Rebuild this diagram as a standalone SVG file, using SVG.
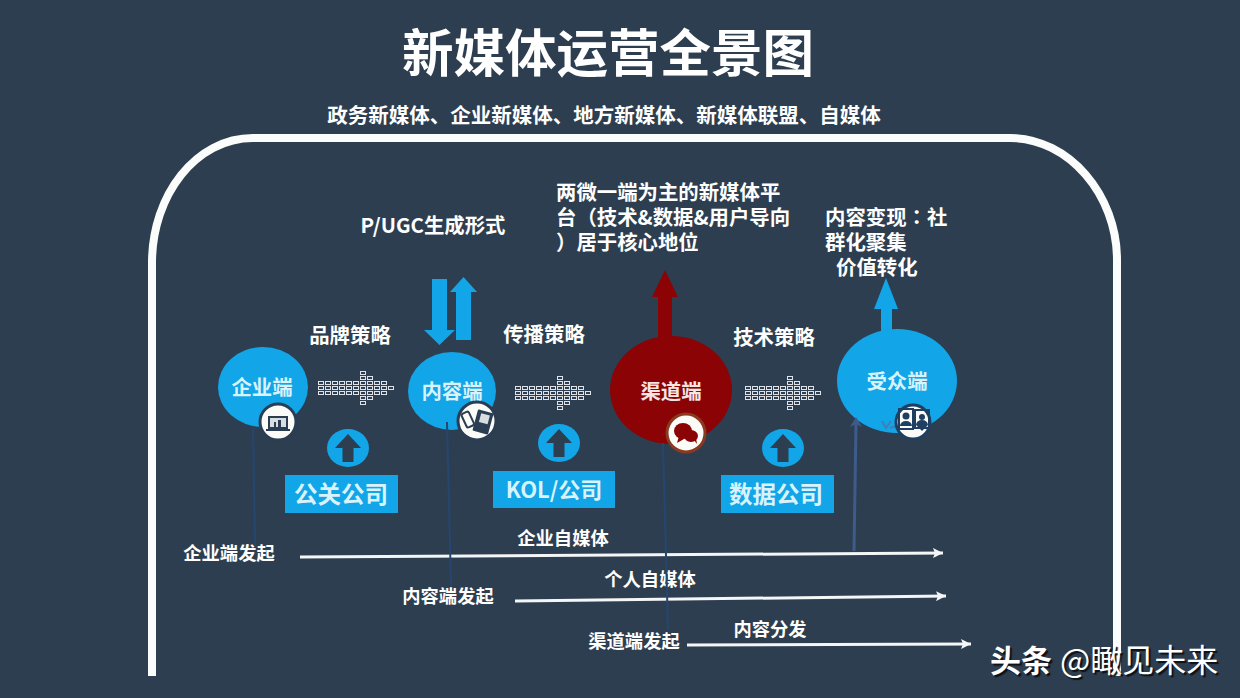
<svg xmlns="http://www.w3.org/2000/svg" xmlns:xlink="http://www.w3.org/1999/xlink" width="1240" height="698" viewBox="0 0 1240 698">
<style>
text{font-family:"Noto Sans CJK SC","Liberation Sans",sans-serif;fill:#fff;font-weight:700}
.c{text-anchor:middle}
.l20{font-size:20.4px}
.l18{font-size:18.3px}
.box{font-size:23.5px;fill:#d8f3fb}
.tc{font-family:"Noto Sans CJK TC","Liberation Sans",sans-serif}
.blue{fill:#12a5e8}
.red{fill:#8b0304}
.dark{fill:#2d3e50}
.boxr{fill:#12a5e8}
.badge{fill:#fbfbf8;stroke-width:3}
.conn{stroke:#26466f;stroke-width:2;fill:none}
.wl{stroke:#f4f6f7;stroke-width:3;fill:none;marker-end:url(#wh)}
</style>
<defs>
<pattern id="cells" width="7" height="5" patternUnits="userSpaceOnUse">
<rect x=".5" y=".5" width="5" height="3" fill="none" stroke="#dfe3e8" stroke-width="1"/>
</pattern>
<polygon id="dots" points="0,10 42,10 42,0 49,0 49,5 56,5 56,10 70,10 70,15 77,15 77,20 70,20 70,25 56,25 56,30 49,30 49,35 42,35 42,25 0,25" fill="url(#cells)"/>
<polygon id="upa" points="0,-14 13,0 5.5,0 5.5,14 -5.5,14 -5.5,0 -13,0" fill="#2d3e50"/>
<marker id="wh" markerUnits="userSpaceOnUse" markerWidth="12" markerHeight="10" refX="10" refY="5" orient="auto"><path d="M0,0L10,5L0,10L2,5z" fill="#f4f6f7"/></marker>
</defs>
<rect width="1240" height="698" fill="#2d3e50"/>
<path id="frame" d="M152,676V263C152,195 196,138 253,138H1010C1069,138 1117,195 1117,260V676" fill="none" stroke="#fbfcfc" stroke-width="8"/>

<text class="c" x="608" y="72" font-size="51.5">新媒体运营全景图</text>
<text class="c" x="604" y="123" font-size="20.5">政务新媒体、企业新媒体、地方新媒体、新媒体联盟、自媒体</text>

<g id="strategy-labels">
<text class="c l20" x="433" y="233">P/UGC生成形式</text>
<text class="c l20" x="350" y="343">品牌策略</text>
<text class="c l20" x="544" y="342">传播策略</text>
<text class="c l20" x="774" y="345">技术策略</text>
<text class="l20"><tspan x="556" y="200">两微一端为主的新媒体平</tspan><tspan x="556" y="225">台<tspan class="tc">（</tspan>技术&amp;数据&amp;用户导向</tspan><tspan x="556" y="250"><tspan class="tc">）</tspan>居于核心地位</tspan></text>
<text class="l20"><tspan x="825" y="225">内容变现<tspan class="tc">：</tspan>社</tspan><tspan x="825" y="250">群化聚集</tspan><tspan x="836" y="275">价值转化</tspan></text>
</g>

<g id="big-arrows">
<polygon class="blue" points="432,279 447,279 447,330 455,330 439.5,345 424,330 432,330"/>
<polygon class="blue" points="456,340 471,340 471,292 477,292 463.5,277 450,292 456,292"/>
<polygon class="red" points="658,340 672,340 672,297 678,297 665,270 652,297 658,297"/>
<polygon class="blue" points="881,335 892,335 892,309 898,309 886,278 874,309 881,309"/>
</g>

<g id="flow-arrows">
<use xlink:href="#dots" href="#dots" transform="translate(318 371)"/>
<use xlink:href="#dots" href="#dots" transform="translate(515 376)"/>
<use xlink:href="#dots" href="#dots" transform="translate(745 376)"/>
</g>

<g id="node-enterprise">
<ellipse class="blue" cx="263" cy="387" rx="45" ry="40"/>
<text class="c l20" x="262" y="395" style="fill:#d8f3fb">企业端</text>
<circle class="badge" cx="278" cy="422" r="18" stroke="#2a3d52"/>
<rect x="268" y="416" width="20" height="13" fill="#2a3d52"/><rect x="270" y="418" width="16" height="9" fill="#d8dde0"/><rect x="274" y="422" width="2" height="5" fill="#2a3d52"/><rect x="278" y="420" width="3" height="7" fill="#2a3d52"/>
<rect x="266" y="429" width="24" height="2" fill="#2a3d52"/>
</g>
<g id="node-content">
<ellipse class="blue" cx="452" cy="391" rx="44" ry="39"/>
<text class="c l20" x="452" y="399" style="fill:#d8f3fb">内容端</text>
<circle class="badge" cx="477" cy="421" r="19" stroke="#2a3d52"/>
<rect x="475" y="411" width="16" height="22" rx="1" fill="#2a3d52" transform="rotate(15 483 422)"/>
<rect x="479" y="414" width="9" height="9" fill="#d8dde0" transform="rotate(15 483 422)"/>
<rect x="464" y="412" width="8" height="15" rx="2" fill="none" stroke="#2a3d52" stroke-width="2" transform="rotate(-25 468 420)"/>
</g>
<g id="node-channel">
<ellipse class="red" cx="671" cy="390" rx="61" ry="54"/>
<text class="c l20" x="671" y="399" style="fill:#f5e6e6">渠道端</text>
<circle class="badge" cx="686" cy="433" r="19" stroke="#8a3a20"/>
<ellipse class="red" cx="683" cy="431" rx="9" ry="8"/><ellipse class="red" cx="691" cy="436" rx="7" ry="6"/>
<path class="red" d="M679,436l-2,7l7,-4zM694,440l3,4l-1,-6z"/>
</g>
<g id="node-audience">
<ellipse class="blue" cx="897" cy="381" rx="60" ry="52"/>
<text class="c l20" x="897" y="389" style="fill:#d8f3fb">受众端</text>
<path d="M882,421l4,7l5,-7M890,428l6,-2" fill="none" stroke="#3f7fb5" stroke-width="2"/>
<circle class="badge" cx="913" cy="422" r="17" stroke="#1f3f62"/>
<rect x="899" y="409" width="14" height="20" fill="none" stroke="#1f3f62" stroke-width="2"/><circle cx="906" cy="416" r="3.5" fill="#1f3f62"/><path d="M900,426a6,5 0 0 1 12,0z" fill="#1f3f62"/>
<rect x="915" y="410" width="14" height="18" fill="none" stroke="#1f3f62" stroke-width="2"/><circle cx="922" cy="417" r="3" fill="#1f3f62"/><path d="M916,425a6,5 0 0 1 12,0l-6,6z" fill="#1f3f62"/>
</g>

<g id="node-pr">
<ellipse class="blue" cx="348" cy="448" rx="21" ry="19"/>
<use xlink:href="#upa" href="#upa" x="348" y="448"/>
<rect class="boxr" x="285" y="475" width="113" height="38"/>
<text class="c box" x="341" y="503">公关公司</text>
</g>
<g id="node-kol">
<ellipse class="blue" cx="559" cy="443" rx="21" ry="19"/>
<use xlink:href="#upa" href="#upa" x="559" y="443"/>
<rect class="boxr" x="493" y="471" width="122" height="37"/>
<text class="c box" x="554" y="498" style="font-size:22px">KOL/公司</text>
</g>
<g id="node-data">
<ellipse class="blue" cx="783" cy="448" rx="21" ry="19"/>
<use xlink:href="#upa" href="#upa" x="783" y="448"/>
<rect class="boxr" x="721" y="475" width="113" height="38"/>
<text class="c box" x="776" y="503">数据公司</text>
</g>

<g id="timeline-labels">
<text class="c l18" x="229" y="560">企业端发起</text>
<text class="c l18" x="448" y="603">内容端发起</text>
<text class="c l18" x="634" y="648">渠道端发起</text>
<text class="c l18" x="563" y="545">企业自媒体</text>
<text class="c l18" x="650" y="586">个人自媒体</text>
<text class="c l18" x="770" y="636">内容分发</text>
</g>

<g id="connectors">
<path class="wl" d="M300,557L943,553"/>
<path class="wl" d="M515,601L946,596"/>
<path class="wl" d="M687,645L971,644"/>
<path class="conn" d="M253,427L255,545"/>
<path class="conn" d="M447,422L451,585"/>
<path class="conn" d="M663,443L668,630"/>
<path d="M854,551L856,424" fill="none" stroke="#3f5b8a" stroke-width="3"/>
<path d="M850,427L856,417L862,427L856,424z" fill="#3f5b8a"/>
</g>

<g id="watermark" style="text-shadow:2px 2px 1px #0d1116">
<text x="990" y="672" font-size="31">头条</text>
<text x="1060" y="672" font-size="32" style="font-weight:400">@瞰见未来</text>
</g>
</svg>
